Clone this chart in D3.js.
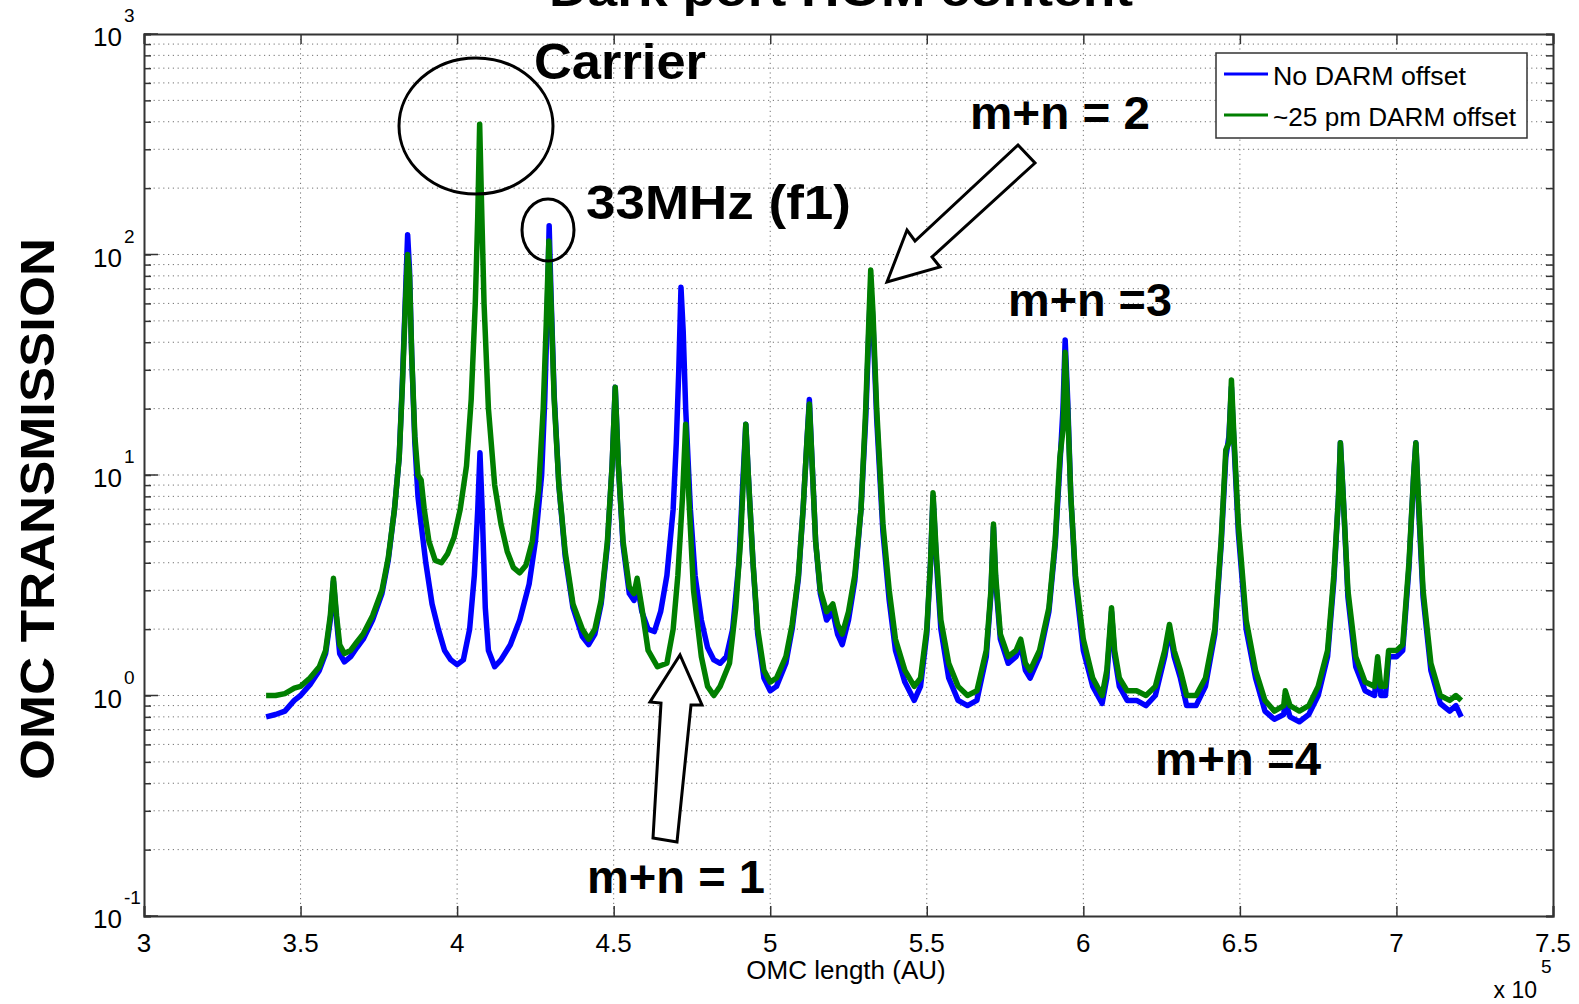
<!DOCTYPE html>
<meta charset="utf-8">
<script src="https://d3js.org/d3.v7.min.js"></script>
<style>
  body { margin: 0; background: #fff; }
  svg { display: block; font-family: "Liberation Sans", Arial, sans-serif; }
  .grid line { stroke: #444; stroke-dasharray: 1.2, 3.6; stroke-width: 1; opacity: .75; }
  .ann { font-weight: bold; fill: #000; }
</style>
<body></body>
<script>
  // OMC length in units of 1e5, transmission values
  let blue = [
    [3.39,0.8],[3.42,0.82],[3.45,0.85],[3.48,0.95],[3.50,1.0],[3.53,1.12],[3.56,1.3],[3.58,1.55],
    [3.595,2.2],[3.605,3.3],[3.615,2.2],[3.625,1.55],[3.64,1.42],[3.66,1.5],[3.68,1.65],[3.70,1.8],
    [3.73,2.2],[3.76,2.9],[3.78,4.1],[3.80,7],[3.815,12],[3.825,26],[3.835,65],[3.842,123],
    [3.848,85],[3.855,35],[3.865,14],[3.875,8],[3.885,6],[3.90,4],[3.92,2.6],[3.94,2.0],
    [3.96,1.6],[3.98,1.45],[4.00,1.38],[4.02,1.45],[4.04,2.0],[4.055,3.5],[4.066,7],[4.073,12.6],
    [4.08,7],[4.09,2.5],[4.10,1.6],[4.12,1.35],[4.14,1.45],[4.17,1.7],[4.20,2.2],[4.23,3.2],
    [4.25,5],[4.27,10],[4.28,22],[4.288,55],[4.294,135],[4.30,65],[4.31,23],[4.325,9],
    [4.345,4.3],[4.37,2.5],[4.40,1.85],[4.42,1.7],[4.44,1.9],[4.46,2.6],[4.48,4.8],[4.495,11],
    [4.505,25],[4.515,11],[4.53,4.8],[4.55,2.9],[4.565,2.7],[4.575,3.2],[4.59,2.4],[4.61,2.0],
    [4.63,1.95],[4.65,2.4],[4.67,3.5],[4.69,7],[4.70,14],[4.708,30],[4.715,71],[4.722,45],
    [4.73,20],[4.745,7],[4.76,3.5],[4.78,2.2],[4.80,1.65],[4.82,1.45],[4.84,1.4],[4.86,1.5],
    [4.88,2.0],[4.90,4],[4.912,9],[4.922,17],[4.93,10],[4.945,4],[4.96,1.9],[4.98,1.2],
    [5.00,1.05],[5.02,1.1],[5.05,1.4],[5.07,2.0],[5.09,3.4],[5.105,7],[5.117,14],[5.125,22],
    [5.133,12],[5.145,5],[5.16,2.9],[5.18,2.2],[5.20,2.4],[5.215,1.9],[5.23,1.7],[5.25,2.2],
    [5.27,3.3],[5.29,7],[5.305,18],[5.315,45],[5.321,72],[5.328,50],[5.34,18],[5.36,5.5],
    [5.38,2.7],[5.40,1.6],[5.43,1.15],[5.46,0.95],[5.48,1.1],[5.50,1.9],[5.512,4],[5.52,8],
    [5.53,4.2],[5.545,2],[5.57,1.2],[5.60,0.95],[5.63,0.9],[5.66,0.95],[5.69,1.5],[5.705,2.9],
    [5.713,5.8],[5.72,3.3],[5.735,1.8],[5.76,1.4],[5.785,1.5],[5.80,1.7],[5.815,1.3],[5.83,1.2],
    [5.86,1.5],[5.89,2.4],[5.91,4.8],[5.925,11],[5.935,20],[5.942,41],[5.95,22],[5.96,8],
    [5.975,3.3],[6.00,1.6],[6.03,1.1],[6.06,0.92],[6.075,1.2],[6.085,1.9],[6.09,2.4],[6.10,1.5],
    [6.115,1.1],[6.14,0.95],[6.17,0.95],[6.20,0.9],[6.23,1.0],[6.26,1.5],[6.275,2.0],[6.29,1.5],
    [6.31,1.2],[6.33,0.9],[6.36,0.9],[6.39,1.1],[6.42,1.9],[6.44,4.8],[6.455,12],[6.465,15],
    [6.473,25],[6.48,15],[6.495,5.5],[6.52,2.0],[6.55,1.2],[6.58,0.85],[6.61,0.78],[6.64,0.82],
    [6.645,0.95],[6.66,0.8],[6.69,0.76],[6.72,0.82],[6.75,1.0],[6.78,1.5],[6.80,3.3],[6.815,8],
    [6.821,14],[6.83,8],[6.845,2.8],[6.87,1.35],[6.90,1.05],[6.93,1.0],[6.94,1.4],[6.95,1.0],
    [6.965,1.0],[6.975,1.5],[7.00,1.5],[7.02,1.6],[7.04,3.8],[7.055,10],[7.062,14],[7.07,7.5],
    [7.085,2.8],[7.11,1.3],[7.14,0.92],[7.17,0.85],[7.19,0.9],[7.207,0.8]
  ];

  let green = [
    [3.39,1.0],[3.42,1.0],[3.45,1.02],[3.48,1.08],[3.50,1.1],[3.53,1.2],[3.56,1.35],[3.58,1.6],
    [3.595,2.3],[3.605,3.4],[3.615,2.3],[3.625,1.7],[3.64,1.55],[3.66,1.6],[3.68,1.75],[3.70,1.9],
    [3.73,2.3],[3.76,3.0],[3.78,4.2],[3.80,7],[3.815,12],[3.825,25],[3.835,60],[3.842,100],
    [3.848,80],[3.855,35],[3.865,15],[3.875,10],[3.885,9.5],[3.895,7],[3.91,5],[3.93,4.1],
    [3.95,4.0],[3.97,4.4],[3.99,5.2],[4.01,7],[4.03,11],[4.045,22],[4.058,60],[4.066,150],
    [4.072,390],[4.078,170],[4.086,60],[4.10,20],[4.12,9],[4.14,6],[4.16,4.5],[4.18,3.8],
    [4.20,3.6],[4.22,3.9],[4.24,5],[4.26,8.5],[4.275,20],[4.285,50],[4.293,115],[4.30,60],
    [4.31,22],[4.325,9],[4.345,4.5],[4.37,2.6],[4.40,2.0],[4.42,1.8],[4.44,2.0],[4.46,2.7],
    [4.48,5],[4.495,11],[4.505,25],[4.515,11],[4.53,5],[4.55,3.1],[4.565,2.9],[4.575,3.4],
    [4.59,2.5],[4.61,1.6],[4.64,1.35],[4.67,1.4],[4.69,2.0],[4.705,3.5],[4.72,8],[4.73,17],
    [4.74,8],[4.755,3],[4.78,1.5],[4.80,1.1],[4.82,1.0],[4.84,1.1],[4.87,1.4],[4.89,2.5],
    [4.905,5],[4.915,10],[4.922,17],[4.93,10],[4.945,4],[4.96,2.0],[4.98,1.3],[5.00,1.15],
    [5.02,1.2],[5.05,1.5],[5.07,2.1],[5.09,3.5],[5.105,7],[5.117,14],[5.125,21],[5.133,12],
    [5.145,5],[5.16,3],[5.18,2.4],[5.20,2.6],[5.215,2.1],[5.23,1.9],[5.25,2.4],[5.27,3.5],
    [5.29,7],[5.305,20],[5.315,50],[5.321,85],[5.328,55],[5.34,20],[5.36,6],[5.38,3],
    [5.40,1.8],[5.43,1.3],[5.46,1.1],[5.48,1.2],[5.50,2.0],[5.512,4],[5.52,8.3],[5.53,4.5],
    [5.545,2.2],[5.57,1.4],[5.60,1.1],[5.63,1.0],[5.66,1.05],[5.69,1.6],[5.705,3],[5.713,6],
    [5.72,3.5],[5.735,1.9],[5.76,1.5],[5.785,1.6],[5.80,1.8],[5.815,1.4],[5.83,1.3],[5.86,1.6],
    [5.89,2.5],[5.91,5],[5.925,12],[5.935,16],[5.942,36],[5.95,20],[5.96,8],[5.975,3.5],
    [6.00,1.8],[6.03,1.2],[6.06,1.0],[6.075,1.3],[6.085,2.0],[6.09,2.5],[6.10,1.6],[6.115,1.2],
    [6.14,1.05],[6.17,1.05],[6.20,1.0],[6.23,1.1],[6.26,1.6],[6.275,2.1],[6.29,1.6],[6.31,1.3],
    [6.33,1.0],[6.36,1.0],[6.39,1.2],[6.42,2.0],[6.44,5],[6.455,13],[6.465,14],[6.473,27],
    [6.48,16],[6.495,6],[6.52,2.2],[6.55,1.3],[6.58,0.95],[6.61,0.85],[6.64,0.9],[6.645,1.05],
    [6.66,0.9],[6.69,0.85],[6.72,0.9],[6.75,1.1],[6.78,1.6],[6.80,3.5],[6.815,8],[6.821,14],
    [6.83,8],[6.845,3],[6.87,1.5],[6.90,1.15],[6.93,1.1],[6.94,1.5],[6.95,1.1],[6.965,1.1],
    [6.975,1.6],[7.00,1.6],[7.02,1.7],[7.04,4],[7.055,10],[7.062,14],[7.07,8],[7.085,3],
    [7.11,1.4],[7.14,1.0],[7.17,0.95],[7.19,1.0],[7.207,0.95]
  ];

  let xTicks = [3, 3.5, 4, 4.5, 5, 5.5, 6, 6.5, 7, 7.5];
  let yDecades = [-1, 0, 1, 2, 3];
  let seriesNames = ["No DARM offset", "~25 pm DARM offset"];
  let seriesColors = ["#0000ff", "#007f00"];

  let W = 1579, H = 1004;
  let margin = { top: 34, right: 26, bottom: 88, left: 144 };
  let width = W - margin.left - margin.right,
      height = H - margin.top - margin.bottom;

  let svg = d3.select("body").append("svg")
    .attr("width", W)
    .attr("height", H);

  let g = svg.append("g")
    .attr("transform", `translate(${margin.left},${margin.top})`);

  let xScale = d3.scaleLinear().domain([3, 7.5]).range([0, width]);
  let yScale = d3.scaleLog().domain([0.1, 1000]).range([height, 0]);

  // minor log ticks 1..9 per decade
  let yMinor = [];
  for (let d = -1; d < 3; d++) for (let k = 1; k < 10; k++) yMinor.push(k * Math.pow(10, d));
  yMinor.push(1000);

  let grid = g.append("g").attr("class", "grid");
  grid.selectAll(".gx").data(xTicks.slice(1, -1)).enter().append("line")
    .attr("x1", d => xScale(d)).attr("x2", d => xScale(d))
    .attr("y1", 0).attr("y2", height);
  grid.selectAll(".gy").data(yMinor.filter(v => v > 0.1 && v < 1000)).enter().append("line")
    .attr("x1", 0).attr("x2", width)
    .attr("y1", d => yScale(d)).attr("y2", d => yScale(d));

  // data lines
  let line = d3.line().x(d => xScale(d[0])).y(d => yScale(d[1]));
  [blue, green].forEach((s, i) => {
    g.append("path").datum(s)
      .attr("fill", "none")
      .attr("stroke", seriesColors[i])
      .attr("stroke-width", 5.5)
      .attr("stroke-linejoin", "round")
      .attr("d", line);
  });

  // axes (box with inward ticks)
  let axCol = "#333";
  let xb = d3.axisBottom(xScale).tickValues(xTicks).tickSize(-10).tickFormat("");
  let xt = d3.axisTop(xScale).tickValues(xTicks).tickSize(-10).tickFormat("");
  let yMaj = yDecades.map(d => Math.pow(10, d));
  let yl = d3.axisLeft(yScale).tickValues(yMinor).tickSize(-7).tickFormat("");
  let yr = d3.axisRight(yScale).tickValues(yMinor).tickSize(-7).tickFormat("");
  let axes = [
    g.append("g").attr("transform", `translate(0,${height})`).call(xb),
    g.append("g").call(xt),
    g.append("g").call(yl),
    g.append("g").attr("transform", `translate(${width},0)`).call(yr)
  ];
  axes.forEach(a => {
    a.selectAll("path").attr("stroke", axCol).attr("stroke-width", 2);
    a.selectAll("line").attr("stroke", axCol).attr("stroke-width", 1.5);
  });
  // longer major ticks on y
  g.selectAll(".ymaj").data(yMaj).enter().append("line")
    .attr("x1", 0).attr("x2", 14)
    .attr("y1", d => yScale(d)).attr("y2", d => yScale(d))
    .attr("stroke", axCol).attr("stroke-width", 1.5);

  let tickFont = '"Liberation Sans Narrow", "Liberation Sans", Arial, sans-serif';

  // x tick labels
  g.selectAll(".xl").data(xTicks).enter().append("text")
    .attr("x", d => xScale(d)).attr("y", height + 36)
    .attr("text-anchor", "middle")
    .style("font-family", tickFont).style("font-size", "26px")
    .text(d => d);

  // y tick labels 10^n
  let yl2 = g.selectAll(".yl").data(yDecades).enter().append("g")
    .attr("transform", d => `translate(-22,${yScale(Math.pow(10, d))})`);
  yl2.append("text").attr("text-anchor", "end").attr("y", 12)
    .style("font-family", tickFont).style("font-size", "26px").text("10");
  yl2.append("text").attr("x", 2).attr("y", -12)
    .style("font-family", tickFont).style("font-size", "19px").text(d => d);

  // axis labels
  svg.append("text").attr("x", 846).attr("y", 979).attr("text-anchor", "middle")
    .style("font-family", tickFont).style("font-size", "26px").text("OMC length (AU)");
  svg.append("text").attr("x", 1537).attr("y", 998).attr("text-anchor", "end")
    .style("font-family", tickFont).style("font-size", "23px").text("x 10");
  svg.append("text").attr("x", 1541).attr("y", 973)
    .style("font-family", tickFont).style("font-size", "19px").text("5");

  svg.append("text")
    .attr("transform", "translate(54,509) rotate(-90)")
    .attr("text-anchor", "middle")
    .attr("class", "ann")
    .attr("textLength", 542).attr("lengthAdjust", "spacingAndGlyphs")
    .style("font-size", "48px")
    .text("OMC TRANSMISSION");

  // title, cut by the top edge as in the original figure
  svg.append("text").attr("x", 841).attr("y", 6).attr("text-anchor", "middle")
    .attr("class", "ann")
    .attr("textLength", 584).attr("lengthAdjust", "spacingAndGlyphs")
    .style("font-size", "46px")
    .text("Dark port HOM content");

  // legend
  let leg = svg.append("g").attr("transform", "translate(1216,53)");
  leg.append("rect").attr("width", 311).attr("height", 85)
    .attr("fill", "#fff").attr("stroke", "#333").attr("stroke-width", 1.5);
  seriesNames.forEach((n, i) => {
    leg.append("line").attr("x1", 8).attr("x2", 52)
      .attr("y1", 21 + i * 41).attr("y2", 21 + i * 41)
      .attr("stroke", seriesColors[i]).attr("stroke-width", 3);
    leg.append("text").attr("x", 57).attr("y", 32 + i * 41)
      .attr("textLength", i ? 243 : 193).attr("lengthAdjust", "spacingAndGlyphs")
      .style("font-size", "25px").text(n);
  });

  // annotations
  let ann = svg.append("g");
  function label(txt, x, y, size, len) {
    ann.append("text").attr("class", "ann").attr("x", x).attr("y", y)
      .attr("textLength", len).attr("lengthAdjust", "spacingAndGlyphs")
      .style("font-size", size + "px").text(txt);
  }
  label("Carrier", 534, 79, 50, 172);
  label("33MHz (f1)", 586, 219, 49, 265);
  label("m+n = 2", 970, 129, 47, 180);
  label("m+n =3", 1008, 316, 47, 164);
  label("m+n = 1", 587, 893, 47, 178);
  label("m+n =4", 1155, 775, 47, 166);

  ann.append("ellipse").attr("cx", 476).attr("cy", 126).attr("rx", 77).attr("ry", 68)
    .attr("fill", "none").attr("stroke", "#000").attr("stroke-width", 3);
  ann.append("ellipse").attr("cx", 548).attr("cy", 230).attr("rx", 26).attr("ry", 31)
    .attr("fill", "none").attr("stroke", "#000").attr("stroke-width", 3);

  // hollow block arrows
  let arrow2 = [[1018,145],[1035,163],[932,257],[940,267],[887,282],[907,230],[915,241]];
  let arrow1 = [[653,838],[677,842],[691,705],[702,705],[680,655],[650,702],[661,703]];
  [arrow1, arrow2].forEach(p => {
    ann.append("polygon").attr("points", p.map(q => q.join(",")).join(" "))
      .attr("fill", "#fff").attr("stroke", "#000").attr("stroke-width", 3)
      .attr("stroke-linejoin", "miter");
  });
</script>
